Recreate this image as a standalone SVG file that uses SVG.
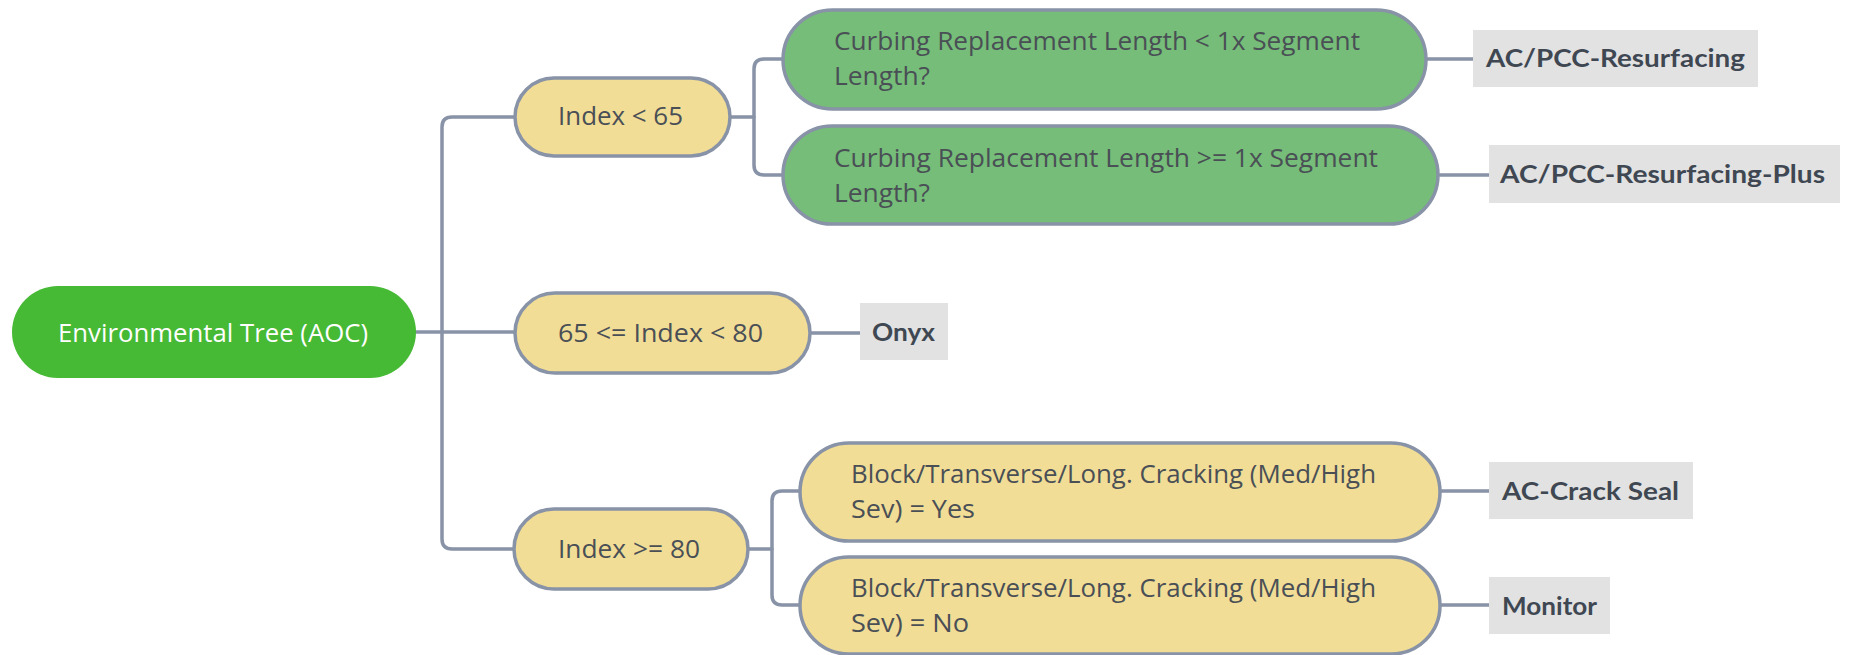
<svg xmlns="http://www.w3.org/2000/svg" width="1851" height="655" viewBox="0 0 1851 655">
  <style>
    .wire { fill: none; stroke: #8893a7; stroke-width: 3.5; stroke-linecap: round; }
    .cond { fill: #f1dd96; stroke: #8893a7; stroke-width: 3.5; }
    .check { fill: #75bd78; stroke: #8893a7; stroke-width: 3.5; }
    .root { fill: #46b935; }
    .tag { fill: #e2e2e2; }
    .ntext { font-family: "Open Sans", "Liberation Sans", sans-serif; font-size: 25px; fill: #4a4f56; }
    .rtext { font-family: "Open Sans", "Liberation Sans", sans-serif; font-size: 25px; fill: #ffffff; }
    .ttext { font-family: "Lato", "Liberation Sans", sans-serif; font-weight: bold; font-size: 24px; fill: #3f4852; }
  </style>

  <g id="connectors">
    <path class="wire" d="M 416 332 H 515"/>
    <path class="wire" d="M 515 117 H 452 Q 442 117 442 127 V 539 Q 442 549 452 549 H 514"/>
    <path class="wire" d="M 730 117 H 754"/>
    <path class="wire" d="M 783 59 H 764 Q 754 59 754 69 V 165 Q 754 175 764 175 H 783"/>
    <path class="wire" d="M 748 549 H 772"/>
    <path class="wire" d="M 800 491 H 782 Q 772 491 772 501 V 595 Q 772 605 782 605 H 800"/>
    <path class="wire" d="M 810 333 H 860"/>
    <path class="wire" d="M 1426 59 H 1473"/>
    <path class="wire" d="M 1440 175 H 1489"/>
    <path class="wire" d="M 1440 491 H 1489"/>
    <path class="wire" d="M 1440 605 H 1489"/>
  </g>

  <g id="root">
    <rect class="root" x="12" y="286" width="404" height="92" rx="46"/>
    <text class="rtext" x="58" y="342" textLength="310" lengthAdjust="spacingAndGlyphs">Environmental Tree (AOC)</text>
  </g>

  <g id="index-lt-65">
    <rect class="cond" x="515" y="78" width="215" height="78" rx="39"/>
    <text class="ntext" x="558" y="125" textLength="125" lengthAdjust="spacingAndGlyphs">Index &lt; 65</text>
  </g>

  <g id="index-65-80">
    <rect class="cond" x="515" y="293" width="295" height="80" rx="40"/>
    <text class="ntext" x="558" y="342" textLength="205" lengthAdjust="spacingAndGlyphs">65 &lt;= Index &lt; 80</text>
  </g>

  <g id="index-ge-80">
    <rect class="cond" x="514" y="509" width="234" height="80" rx="40"/>
    <text class="ntext" x="558" y="558" textLength="142" lengthAdjust="spacingAndGlyphs">Index &gt;= 80</text>
  </g>

  <g id="curb-short">
    <rect class="check" x="783" y="10" width="643" height="99" rx="49.5"/>
    <text class="ntext" x="834" y="50" textLength="526" lengthAdjust="spacingAndGlyphs">Curbing Replacement Length &lt; 1x Segment</text>
    <text class="ntext" x="834" y="85" textLength="96" lengthAdjust="spacingAndGlyphs">Length?</text>
  </g>

  <g id="curb-long">
    <rect class="check" x="783" y="126" width="655" height="98" rx="49"/>
    <text class="ntext" x="834" y="167" textLength="544" lengthAdjust="spacingAndGlyphs">Curbing Replacement Length &gt;= 1x Segment</text>
    <text class="ntext" x="834" y="202" textLength="96" lengthAdjust="spacingAndGlyphs">Length?</text>
  </g>

  <g id="crack-yes">
    <rect class="cond" x="800" y="443" width="640" height="98" rx="49"/>
    <text class="ntext" x="851" y="483" textLength="525" lengthAdjust="spacingAndGlyphs">Block/Transverse/Long. Cracking (Med/High</text>
    <text class="ntext" x="851" y="518" textLength="124" lengthAdjust="spacingAndGlyphs">Sev) = Yes</text>
  </g>

  <g id="crack-no">
    <rect class="cond" x="800" y="557" width="640" height="97" rx="48.5"/>
    <text class="ntext" x="851" y="597" textLength="525" lengthAdjust="spacingAndGlyphs">Block/Transverse/Long. Cracking (Med/High</text>
    <text class="ntext" x="851" y="632" textLength="118" lengthAdjust="spacingAndGlyphs">Sev) = No</text>
  </g>

  <g id="resurfacing">
    <rect class="tag" x="1473" y="30" width="285" height="57"/>
    <text class="ttext" x="1486" y="67" textLength="259" lengthAdjust="spacingAndGlyphs">AC/PCC-Resurfacing</text>
  </g>

  <g id="resurfacing-plus">
    <rect class="tag" x="1489" y="145" width="351" height="58"/>
    <text class="ttext" x="1500" y="183" textLength="325" lengthAdjust="spacingAndGlyphs">AC/PCC-Resurfacing-Plus</text>
  </g>

  <g id="onyx">
    <rect class="tag" x="860" y="303" width="88" height="57"/>
    <text class="ttext" x="872" y="341" textLength="63" lengthAdjust="spacingAndGlyphs">Onyx</text>
  </g>

  <g id="crack-seal">
    <rect class="tag" x="1489" y="462" width="204" height="57"/>
    <text class="ttext" x="1502" y="500" textLength="177" lengthAdjust="spacingAndGlyphs">AC-Crack Seal</text>
  </g>

  <g id="monitor">
    <rect class="tag" x="1489" y="577" width="121" height="57"/>
    <text class="ttext" x="1502" y="615" textLength="95" lengthAdjust="spacingAndGlyphs">Monitor</text>
  </g>
</svg>
